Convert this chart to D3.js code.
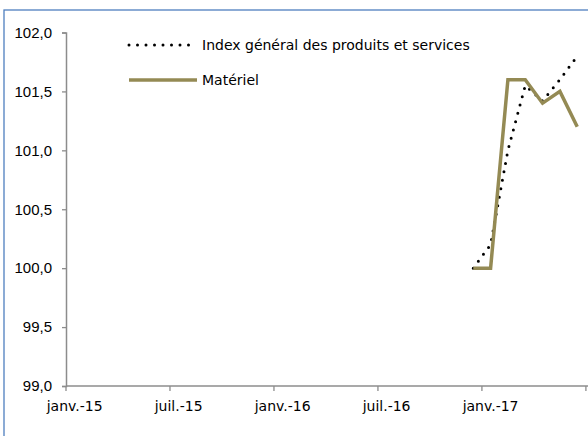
<html>
<head>
<meta charset="utf-8">
<style>
body { margin: 0; background: #fff; }
text { font-family: "DejaVu Sans", sans-serif; }
</style>
</head>
<body>
<script src="https://d3js.org/d3.v7.min.js"></script>
<script>

var width = 588,
    height = 436;

// months of the date axis (janv.-15 .. juil.-17)
var months = d3.timeMonth.range(new Date(2015, 0, 1), new Date(2017, 7, 1));
var tickMonths = ["2015-01", "2015-07", "2016-01", "2016-07", "2017-01", "2017-07"];
var tickLabels = ["janv.-15", "juil.-15", "janv.-16", "juil.-16", "janv.-17", ""];

var seriesMonths = ["2016-12", "2017-01", "2017-02", "2017-03", "2017-04", "2017-05", "2017-06"];
var indexGeneral = [100.0, 100.2, 101.0, 101.55, 101.42, 101.6, 101.8];
var materiel     = [100.0, 100.0, 101.6, 101.6, 101.4, 101.5, 101.2];

var yTicks = [99, 99.5, 100, 100.5, 101, 101.5, 102];

var key = d3.timeFormat("%Y-%m");
var fmt = d3.format(".1f");

var x = d3.scaleBand()
    .domain(months.map(key))
    .range([66, 66 + months.length * 17.33])
    .paddingInner(0).paddingOuter(0);

var y = d3.scaleLinear()
    .domain([99, 102])
    .range([386, 32.5]);

var svg = d3.select("body").append("svg")
    .attr("width", width)
    .attr("height", height);

// frame
svg.append("rect")
    .attr("x", 4).attr("y", 10)
    .attr("width", 700).attr("height", 500)
    .attr("fill", "none")
    .attr("stroke", "#4f7fbf")
    .attr("stroke-width", 1.3);

var axisColor = "#8c8c8c";

// y axis
var yAxis = svg.append("g")
    .attr("transform", "translate(66,0)")
    .call(d3.axisLeft(y).tickValues(yTicks).tickSize(4).tickPadding(10)
      .tickFormat(function(d) { return fmt(d).replace(".", ","); }));
yAxis.select(".domain").attr("stroke", axisColor).attr("stroke-width", 1.5);
yAxis.selectAll(".tick line").attr("stroke", axisColor).attr("stroke-width", 1.3);
yAxis.selectAll(".tick text")
    .style("font-family", "'Liberation Sans', Arial, sans-serif")
    .style("font-size", "15px")
    .attr("fill", "#000");

// x axis line + ticks at month start
var xg = svg.append("g");
xg.append("line")
    .attr("x1", 66).attr("x2", width)
    .attr("y1", y(99)).attr("y2", y(99))
    .attr("stroke", axisColor).attr("stroke-width", 1.5);
xg.selectAll(".xt")
    .data(tickMonths)
    .enter().append("line")
    .attr("x1", function(d) { return x(d); })
    .attr("x2", function(d) { return x(d); })
    .attr("y1", y(99)).attr("y2", y(99) + 5)
    .attr("stroke", axisColor).attr("stroke-width", 1.3);
xg.selectAll(".xl")
    .data(tickMonths)
    .enter().append("text")
    .attr("x", function(d) { return x(d) + x.bandwidth() / 2; })
    .attr("y", 411)
    .attr("text-anchor", "middle")
    .style("font-size", "14px")
    .text(function(d, i) { return tickLabels[i]; });

var line = d3.line()
    .x(function(d) { return x(d.m) + x.bandwidth() / 2; })
    .y(function(d) { return y(d.v); });

var genData = seriesMonths.map(function(m, i) { return {m: m, v: indexGeneral[i]}; });
var matData = seriesMonths.map(function(m, i) { return {m: m, v: materiel[i]}; });

svg.append("path")
    .attr("d", line(genData))
    .attr("fill", "none")
    .attr("stroke", "#000")
    .attr("stroke-width", 3)
    .attr("stroke-linecap", "round")
    .attr("stroke-dasharray", "0 8.6");

svg.append("path")
    .attr("d", line(matData))
    .attr("fill", "none")
    .attr("stroke", "#948a54")
    .attr("stroke-width", 3.5)
    .attr("stroke-linejoin", "miter");

// legend
var legend = [
  {label: "Index général des produits et services", y: 45, dotted: true},
  {label: "Matériel", y: 80, dotted: false}
];
var lg = svg.selectAll(".lg")
    .data(legend)
    .enter().append("g");
lg.append("line")
    .attr("x1", 129).attr("x2", 197)
    .attr("y1", function(d) { return d.y; })
    .attr("y2", function(d) { return d.y; })
    .attr("stroke", function(d) { return d.dotted ? "#000" : "#948a54"; })
    .attr("stroke-width", function(d) { return d.dotted ? 3 : 3.5; })
    .attr("stroke-linecap", function(d) { return d.dotted ? "round" : "butt"; })
    .attr("stroke-dasharray", function(d) { return d.dotted ? "0 8.5" : null; });
lg.append("text")
    .attr("x", 202)
    .attr("y", function(d) { return d.y + 5; })
    .style("font-size", "14px")
    .text(function(d) { return d.label; });

</script>
</body>
</html>
